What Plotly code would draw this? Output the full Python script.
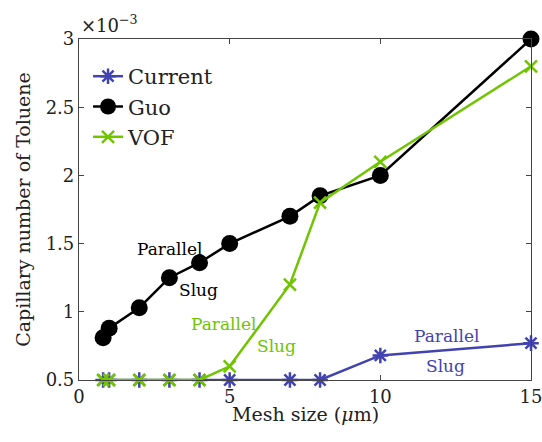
import plotly.graph_objects as go

mesh = [0.8, 1, 2, 3, 4, 5, 7, 8, 10, 15]
current = [0.5, 0.5, 0.5, 0.5, 0.5, 0.5, 0.5, 0.5, 0.68, 0.77]
guo = [0.81, 0.88, 1.03, 1.25, 1.36, 1.5, 1.7, 1.85, 2.0, 3.0]
vof = [0.5, 0.5, 0.5, 0.5, 0.5, 0.6, 1.2, 1.8, 2.1, 2.8]

blue = "#4343b0"
green = "#70c400"
font = "DejaVu Serif"

fig = go.Figure()
fig.add_trace(go.Scatter(x=mesh, y=current, name="Current", mode="lines+markers", cliponaxis=False,
                         line=dict(color=blue, width=2.5),
                         marker=dict(symbol="asterisk-open", size=13, line=dict(color=blue, width=2.5))))
fig.add_trace(go.Scatter(x=mesh, y=guo, name="Guo", mode="lines+markers", cliponaxis=False,
                         line=dict(color="black", width=2.5),
                         marker=dict(symbol="circle", size=17, color="black")))
fig.add_trace(go.Scatter(x=mesh, y=vof, name="VOF", mode="lines+markers", cliponaxis=False,
                         line=dict(color=green, width=2.5),
                         marker=dict(symbol="x-thin-open", size=12, line=dict(color=green, width=2.5))))

ann = [
    ("Parallel", 3.0, 1.46, "black"),
    ("Slug", 3.97, 1.16, "black"),
    ("Parallel", 4.8, 0.91, green),
    ("Slug", 6.55, 0.75, green),
    ("Parallel", 12.2, 0.82, blue),
    ("Slug", 12.15, 0.6, blue),
]
for t, x, y, c in ann:
    fig.add_annotation(x=x, y=y, text=t, showarrow=False,
                       font=dict(family=font, size=17, color=c))

fig.add_annotation(xref="paper", yref="paper", x=0, y=1.0, xanchor="left", yanchor="bottom",
                   text="×10<sup>−3</sup>", showarrow=False, yshift=1,
                   font=dict(family=font, size=18, color="#222"))

fig.add_annotation(xref="paper", yref="paper", x=0.5, y=-0.1, xanchor="center", yanchor="middle",
                   text="Mesh size (<i>μ</i>m)", showarrow=False,
                   font=dict(family=font, size=19, color="#222"))

axis_common = dict(showline=True, linecolor="#444", linewidth=1.2, mirror="ticks",
                   ticks="inside", ticklen=5, tickcolor="#444", showgrid=False, zeroline=False,
                   automargin=False, ticklabeloverflow="allow",
                   tickfont=dict(family=font, size=18, color="#222"))

fig.update_layout(
    width=542, height=442,
    margin=dict(l=79, r=11, t=39, b=62),
    paper_bgcolor="white", plot_bgcolor="white",
    xaxis=dict(range=[0, 15], tickvals=[0, 5, 10, 15], **axis_common),
    yaxis=dict(range=[0.5, 3], tickvals=[0.5, 1, 1.5, 2, 2.5, 3],
               ticktext=["0.5", "1", "1.5", "2", "2.5", "3"],
               title=dict(text="Capillary number of Toluene", font=dict(family=font, size=19, color="#222"), standoff=10),
               **axis_common),
    legend=dict(x=0.02, y=0.95, xanchor="left", yanchor="top",
                bgcolor="rgba(0,0,0,0)", font=dict(family=font, size=21, color="#222"),
                itemwidth=30, tracegroupgap=0),
    showlegend=True,
)
fig.write_html("out.html")
